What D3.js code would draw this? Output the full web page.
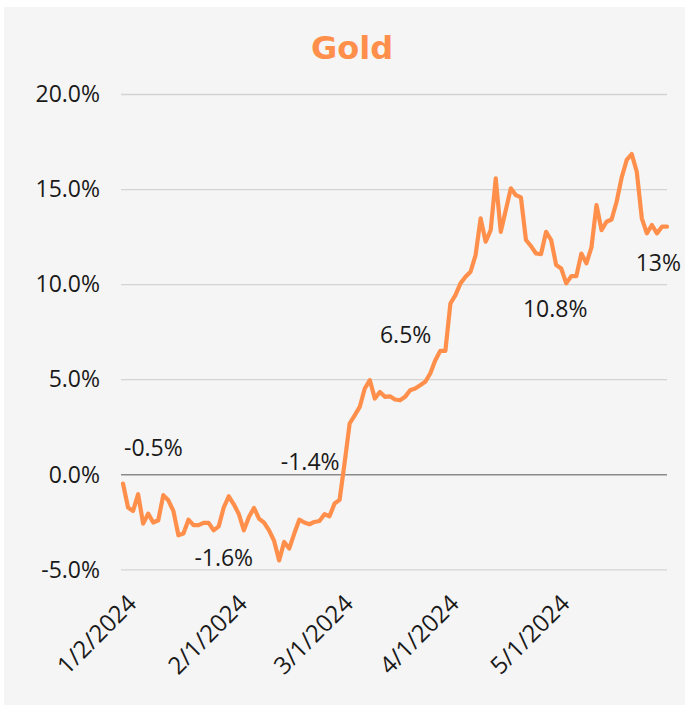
<!DOCTYPE html>
<html>
<head>
<meta charset="utf-8">
<script src="https://cdn.jsdelivr.net/npm/d3@7"></script>
<style>
  html, body { margin: 0; padding: 0; background: #fff; }
  #chart { width: 685px; height: 709px; }
  text { font-family: "Open Sans", "DejaVu Sans", sans-serif; fill: #1a1a1a; }
</style>
</head>
<body>
<div id="chart"></div>
<script>
// cumulative return of gold, one value per weekday (1/2/2024 .. 5/31/2024), in %
const goldReturn = [
  -0.49, -1.75, -1.93, -1.05, -2.6, -2.07, -2.54, -2.42, -1.1, -1.37,
  -1.93, -3.21, -3.12, -2.39, -2.68, -2.68, -2.56, -2.56, -2.95, -2.74,
  -1.75, -1.16, -1.58, -2.1, -2.95, -2.25, -1.77, -2.33, -2.54, -2.95,
  -3.51, -4.53, -3.56, -3.91, -3.12, -2.39, -2.54, -2.63, -2.51, -2.46,
  -2.1, -2.21, -1.54, -1.35, 0.6, 2.67, 3.1, 3.54, 4.51, 4.95,
  3.98, 4.33, 4.07, 4.1, 3.93, 3.89, 4.07, 4.42, 4.51, 4.68,
  4.86, 5.3, 6.0, 6.49, 6.49, 8.98, 9.42, 10.04, 10.39, 10.65,
  11.53, 13.46, 12.23, 12.84, 15.56, 12.75, 13.9, 15.04, 14.68, 14.56,
  12.32, 12.0, 11.61, 11.58, 12.75, 12.32, 11.0, 10.82, 10.04, 10.42,
  10.42, 11.61, 11.09, 11.93, 14.16, 12.84, 13.28, 13.4, 14.33, 15.61,
  16.53, 16.84, 15.91, 13.46, 12.67, 13.11, 12.67, 13.02, 13.02
];
const tickLabels = ['1/2/2024', '2/1/2024', '3/1/2024', '4/1/2024', '5/1/2024'];
const tickIndex = [0, 22, 43, 64, 86];
const yTicks = [-5, 0, 5, 10, 15, 20];
const annoText = ['-0.5%', '-1.6%', '-1.4%', '6.5%', '10.8%', '13%'];
const annoIndex = [0, 31, 43, 63, 87, 108];

const ORANGE = '#FF8F4B';
const W = 685, H = 709;
const M = { t: 94, r: 18, b: 140, l: 121 };

const svg = d3.select('#chart').append('svg')
  .attr('width', W)
  .attr('height', H)
  .style('display', 'block');

svg.append('rect')
  .attr('x', 4).attr('y', 7)
  .attr('width', W - 4).attr('height', H - 11)
  .attr('fill', '#f5f5f5');

const x = d3.scaleLinear()
  .domain([0, goldReturn.length - 1])
  .range([123, 667]);
const y = d3.scaleLinear()
  .domain([-5, 20])
  .range([569.3, 94]);

// gridlines
const grid = svg.append('g')
  .attr('transform', `translate(${M.l},0)`)
  .call(d3.axisLeft(y).tickValues(yTicks).tickSize(-(667 - M.l)).tickFormat(''));
grid.select('.domain').remove();
grid.selectAll('line')
  .attr('stroke', d => d === 0 ? '#8a8a8a' : '#d4d4d4')
  .attr('stroke-width', 1.3);

// y labels
svg.append('g').selectAll('text')
  .data(yTicks)
  .enter().append('text')
  .attr('x', 100)
  .attr('y', d => y(d))
  .attr('dy', '0.36em')
  .attr('text-anchor', 'end')
  .style('font-size', '23px')
  .text(d => d.toFixed(1) + '%');

// x labels
svg.append('g').selectAll('text')
  .data(tickIndex)
  .enter().append('text')
  .attr('transform', d => `translate(${x(d) + 15},605) rotate(-45)`)
  .attr('text-anchor', 'end')
  .style('font-size', '24px')
  .text((d, i) => tickLabels[i]);

// line
const line = d3.line()
  .x((d, i) => x(i))
  .y(d => y(d));

svg.append('path')
  .datum(goldReturn)
  .attr('d', line)
  .attr('fill', 'none')
  .attr('stroke', ORANGE)
  .attr('stroke-width', 4.2)
  .attr('stroke-linejoin', 'round')
  .attr('stroke-linecap', 'round');

// data labels, placed next to their point
const annoOffset = [
  { dx: 1, dy: -28, a: 'start' },
  { dx: -26, dy: 6, a: 'end' },
  { dx: 0, dy: -30, a: 'end' },
  { dx: -9, dy: -8, a: 'end' },
  { dx: -6, dy: 48, a: 'middle' },
  { dx: 14, dy: 44, a: 'end' }
];
svg.append('g').selectAll('text')
  .data(annoText)
  .enter().append('text')
  .attr('x', (d, i) => x(annoIndex[i]) + annoOffset[i].dx)
  .attr('y', (d, i) => y(goldReturn[annoIndex[i]]) + annoOffset[i].dy)
  .attr('text-anchor', (d, i) => annoOffset[i].a)
  .style('font-size', '23px')
  .text(d => d);

// title
svg.append('text')
  .attr('x', 352)
  .attr('y', 59)
  .attr('text-anchor', 'middle')
  .style('font-family', '"DejaVu Sans", sans-serif')
  .style('font-weight', 'bold')
  .style('font-size', '32px')
  .style('fill', ORANGE)
  .text('Gold');
</script>
</body>
</html>
